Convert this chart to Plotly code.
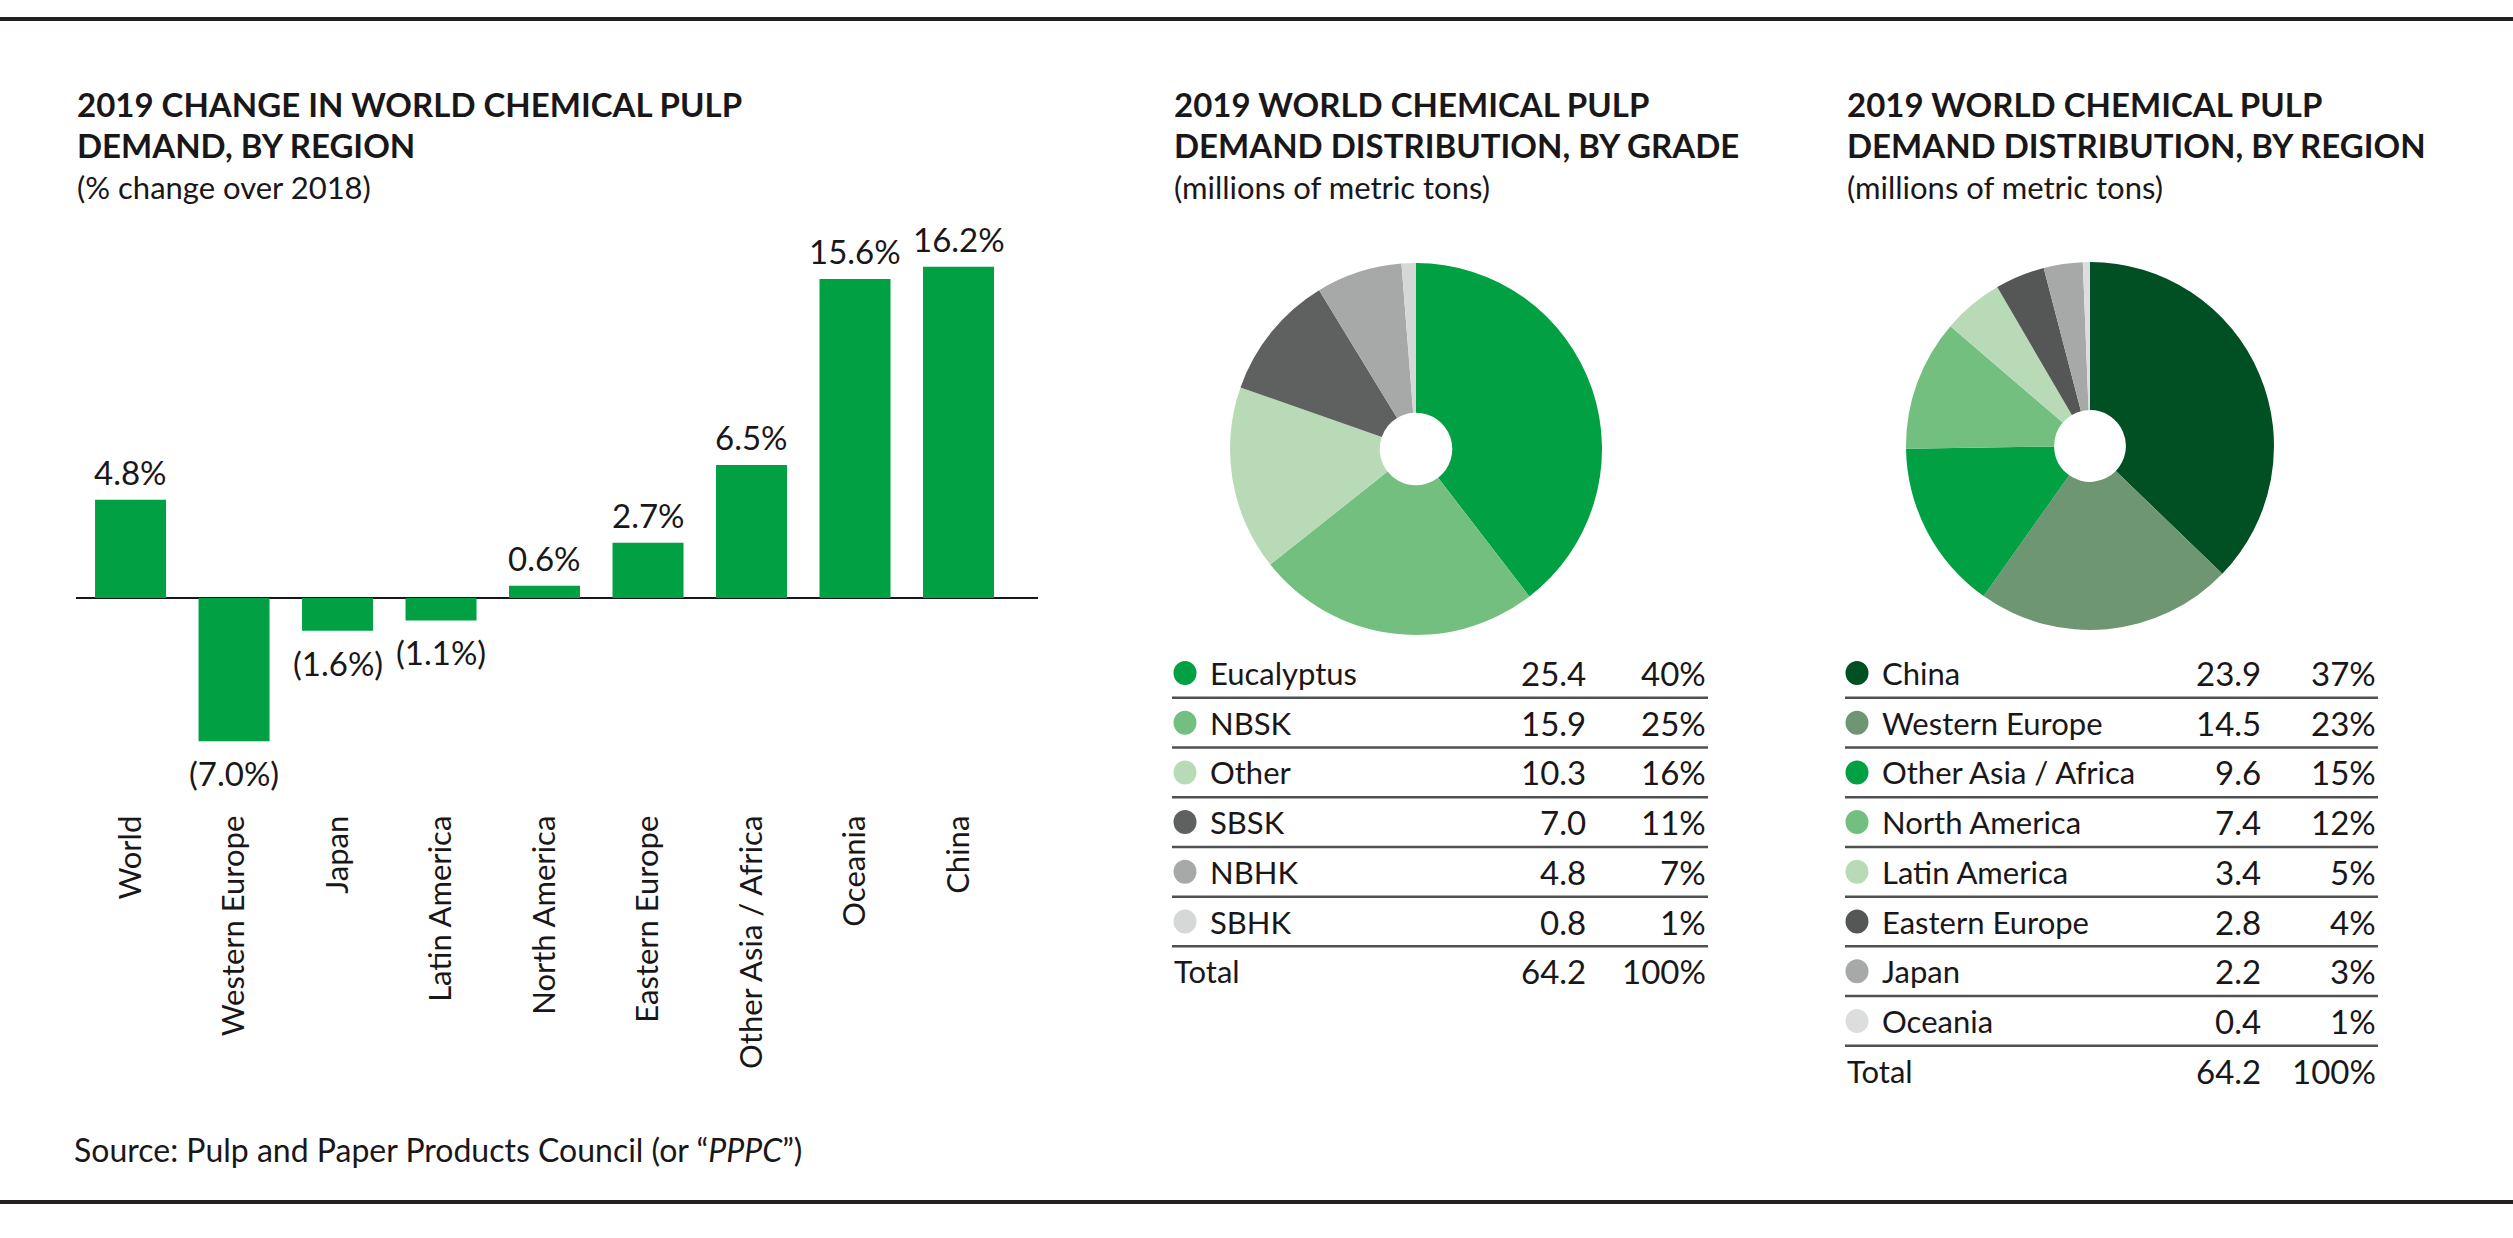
import plotly.graph_objects as go

W, H = 2513, 1238

# ---------------- data ----------------
bar_regions = ["World", "Western Europe", "Japan", "Latin America", "North America",
               "Eastern Europe", "Other Asia / Africa", "Oceania", "China"]
bar_change = [4.8, -7.0, -1.6, -1.1, 0.6, 2.7, 6.5, 15.6, 16.2]

grade_names = ["Eucalyptus", "NBSK", "Other", "SBSK", "NBHK", "SBHK"]
grade_values = [25.4, 15.9, 10.3, 7.0, 4.8, 0.8]
grade_shares = [40, 25, 16, 11, 7, 1]
grade_colors = ["#00a043", "#73bf7f", "#b8dab6", "#5f6161", "#a7a9a8", "#d6d8d8"]

region_names = ["China", "Western Europe", "Other Asia / Africa", "North America",
                "Latin America", "Eastern Europe", "Japan", "Oceania"]
region_values = [23.9, 14.5, 9.6, 7.4, 3.4, 2.8, 2.2, 0.4]
region_shares = [37, 23, 15, 12, 5, 4, 3, 1]
region_colors = ["#005023", "#6e9672", "#00a043", "#73bf7f", "#b8dab6", "#555757", "#a7a9a8", "#dcdedd"]

total_value = "64.2"
total_share = "100%"

BAR_COLOR = "#00a043"
TXT = "#1a1718"
FONT = "Lato"
BODY = 32


def px(x):
    return x / W


def py(y):
    return 1 - y / H


fig = go.Figure()

# ---------------- bar chart ----------------
Y_MIN, Y_MAX = -10.0, 17.5
ZERO_PX, PX_PER = 598.0, 20.45
y_bottom = ZERO_PX - Y_MIN * PX_PER
y_top = ZERO_PX - Y_MAX * PX_PER

fig.add_trace(go.Bar(
    x=bar_regions, y=bar_change, marker=dict(color=BAR_COLOR, line=dict(width=0)),
    width=0.686, hoverinfo="skip", showlegend=False, xaxis="x", yaxis="y",
))

annotations = []
for name, v in zip(bar_regions, bar_change):
    txt = f"{v:.1f}%" if v >= 0 else f"({abs(v):.1f}%)"
    annotations.append(dict(
        x=name, y=v, xref="x", yref="y", text=txt, showarrow=False,
        yanchor="bottom" if v >= 0 else "top", yshift=6 if v >= 0 else -10,
        font=dict(family=FONT, size=BODY + 1, color=TXT),
    ))

fig.update_layout(
    xaxis=dict(domain=[px(76), px(1038)], range=[-0.527, 8.768], showgrid=False,
               showline=False, zeroline=False, ticks="", tickangle=-90,
               tickfont=dict(family=FONT, size=31, color=TXT), ticklabelstandoff=6,
               anchor="y", fixedrange=True),
    yaxis=dict(domain=[py(y_bottom), py(y_top)], range=[Y_MIN, Y_MAX], showgrid=False,
               showticklabels=False, ticks="", showline=False, zeroline=True,
               zerolinecolor=TXT, zerolinewidth=2, anchor="x", fixedrange=True),
)

# ---------------- pies ----------------
def pie_domain(cx, cy, r):
    return dict(x=[px(cx - r), px(cx + r)], y=[py(cy + r), py(cy - r)])


fig.add_trace(go.Pie(
    labels=grade_names, values=grade_values, sort=False, direction="clockwise",
    rotation=0, hole=0.195, textinfo="none", hoverinfo="skip", showlegend=False,
    marker=dict(colors=grade_colors, line=dict(width=0)),
    domain=pie_domain(1416, 449, 186),
))
fig.add_trace(go.Pie(
    labels=region_names, values=region_values, sort=False, direction="clockwise",
    rotation=0, hole=0.195, textinfo="none", hoverinfo="skip", showlegend=False,
    marker=dict(colors=region_colors, line=dict(width=0)),
    domain=pie_domain(2090, 446, 184),
))

# ---------------- titles ----------------
titles = [
    (75, ["2019 CHANGE IN WORLD CHEMICAL PULP", "DEMAND, BY REGION"], "(% change over 2018)"),
    (1172, ["2019 WORLD CHEMICAL PULP", "DEMAND DISTRIBUTION, BY GRADE"], "(millions of metric tons)"),
    (1845, ["2019 WORLD CHEMICAL PULP", "DEMAND DISTRIBUTION, BY REGION"], "(millions of metric tons)"),
]
for x0, lines, sub in titles:
    for i, line in enumerate(lines):
        annotations.append(dict(
            x=px(x0), y=py(104 + i * 40.5), xref="paper", yref="paper", xanchor="left",
            yanchor="middle", text=f"<b>{line}</b>", showarrow=False,
            font=dict(family=FONT, size=33, color=TXT),
        ))
    annotations.append(dict(
        x=px(x0), y=py(187), xref="paper", yref="paper", xanchor="left",
        yanchor="middle", text=sub, showarrow=False,
        font=dict(family=FONT, size=31, color=TXT),
    ))

annotations.append(dict(
    x=px(72), y=py(1149), xref="paper", yref="paper", xanchor="left", yanchor="middle",
    text="Source: Pulp and Paper Products Council (or \u201c<i>PPPC</i>\u201d)", showarrow=False,
    font=dict(family=FONT, size=32, color=TXT),
))

# ---------------- tables ----------------
shapes = []
ROW0, ROW_H = 673.0, 49.7


def add_table(names, values, shares, colors, left, dot_x, label_x, val_right, pct_right):
    n = len(names)
    for i in range(n):
        yc = ROW0 + i * ROW_H
        shapes.append(dict(type="circle", xref="paper", yref="paper",
                           x0=px(dot_x - 11.5), x1=px(dot_x + 11.5),
                           y0=py(yc + 12), y1=py(yc - 12),
                           fillcolor=colors[i], line=dict(width=0)))
        annotations.append(dict(x=px(label_x), y=py(yc), xref="paper", yref="paper",
                                xanchor="left", yanchor="middle", text=names[i], showarrow=False,
                                font=dict(family=FONT, size=31, color=TXT)))
        annotations.append(dict(x=px(val_right), y=py(yc), xref="paper", yref="paper",
                                xanchor="right", yanchor="middle", text=f"{values[i]:.1f}",
                                showarrow=False, font=dict(family=FONT, size=BODY + 1, color=TXT)))
        annotations.append(dict(x=px(pct_right), y=py(yc), xref="paper", yref="paper",
                                xanchor="right", yanchor="middle", text=f"{shares[i]}%",
                                showarrow=False, font=dict(family=FONT, size=BODY + 1, color=TXT)))
        yl = yc + ROW_H / 2
        shapes.append(dict(type="line", xref="paper", yref="paper", x0=px(left), x1=px(pct_right),
                           y0=py(yl), y1=py(yl), line=dict(color="#505153", width=2.5)))
    yc = ROW0 + n * ROW_H
    annotations.append(dict(x=px(left), y=py(yc), xref="paper", yref="paper", xanchor="left",
                            yanchor="middle", text="Total", showarrow=False,
                            font=dict(family=FONT, size=31, color=TXT)))
    annotations.append(dict(x=px(val_right), y=py(yc), xref="paper", yref="paper", xanchor="right",
                            yanchor="middle", text=total_value, showarrow=False,
                            font=dict(family=FONT, size=BODY + 1, color=TXT)))
    annotations.append(dict(x=px(pct_right), y=py(yc), xref="paper", yref="paper", xanchor="right",
                            yanchor="middle", text=total_share, showarrow=False,
                            font=dict(family=FONT, size=BODY + 1, color=TXT)))


add_table(grade_names, grade_values, grade_shares, grade_colors, 1172, 1185, 1208, 1588, 1708)
add_table(region_names, region_values, region_shares, region_colors, 1845, 1857, 1880, 2263, 2378)

# rules
for yy in (19, 1202):
    shapes.append(dict(type="line", xref="paper", yref="paper", x0=0, x1=1, y0=py(yy), y1=py(yy),
                       line=dict(color="#231f20", width=4)))

fig.update_layout(
    width=W, height=H, margin=dict(l=0, r=0, t=0, b=0), autosize=False,
    paper_bgcolor="white", plot_bgcolor="white",
    annotations=annotations, shapes=shapes, bargap=0.3,
)

fig.write_html("out.html", config={"displayModeBar": False, "staticPlot": True},
               post_script="document.body.style.margin='0';")
